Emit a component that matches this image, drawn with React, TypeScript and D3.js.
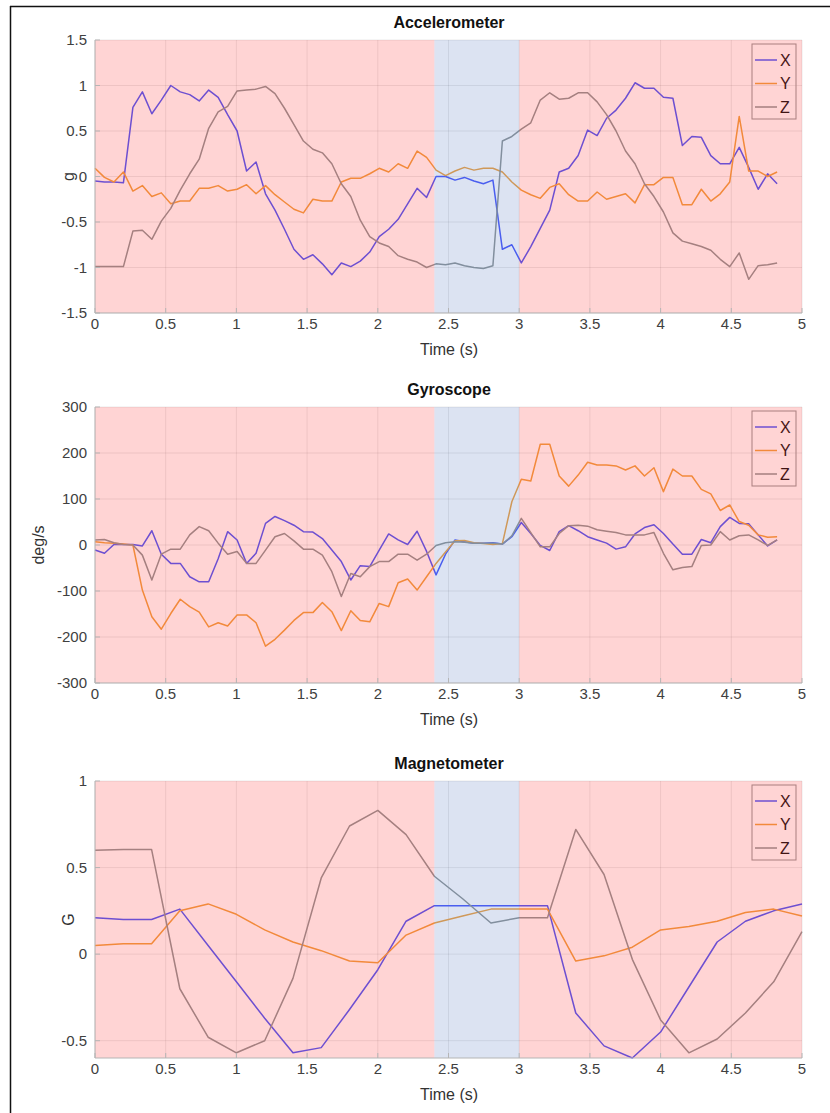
import React from 'react'
import * as d3 from 'd3'

// sample period of the IMU streams (s)
const imuStep = 0.067
const imuTime = d3.range(73).map(i => i * imuStep)
const magTime = d3.range(26).map(i => i * 0.2)

const accX = [-0.05, -0.06, -0.06, -0.07, 0.76, 0.93, 0.69, 0.84, 1.0, 0.93, 0.9, 0.83, 0.95, 0.87, 0.68, 0.5, 0.06, 0.16, -0.19, -0.37, -0.58, -0.8, -0.91, -0.86, -0.96, -1.08, -0.95, -0.99, -0.93, -0.83, -0.66, -0.58, -0.47, -0.3, -0.13, -0.23, 0.0, 0.0, -0.04, -0.01, -0.05, -0.08, -0.04, -0.8, -0.75, -0.95, -0.77, -0.57, -0.37, 0.05, 0.09, 0.23, 0.51, 0.45, 0.64, 0.73, 0.86, 1.03, 0.97, 0.97, 0.87, 0.86, 0.34, 0.44, 0.43, 0.23, 0.14, 0.14, 0.32, 0.1, -0.14, 0.03, -0.08]
const accY = [0.09, -0.01, -0.06, 0.05, -0.16, -0.1, -0.22, -0.18, -0.3, -0.27, -0.27, -0.13, -0.13, -0.1, -0.16, -0.14, -0.09, -0.19, -0.1, -0.2, -0.28, -0.36, -0.4, -0.25, -0.27, -0.27, -0.06, -0.02, -0.02, 0.03, 0.09, 0.05, 0.14, 0.09, 0.28, 0.21, 0.07, 0.01, 0.06, 0.1, 0.07, 0.09, 0.09, 0.05, -0.06, -0.15, -0.2, -0.24, -0.12, -0.08, -0.2, -0.27, -0.27, -0.17, -0.25, -0.22, -0.19, -0.29, -0.09, -0.09, -0.01, -0.01, -0.31, -0.31, -0.14, -0.27, -0.19, -0.06, 0.66, 0.06, 0.06, 0.0, 0.05]
const accZ = [-0.99, -0.99, -0.99, -0.99, -0.6, -0.59, -0.69, -0.49, -0.35, -0.15, 0.03, 0.19, 0.53, 0.71, 0.77, 0.94, 0.95, 0.96, 0.99, 0.91, 0.75, 0.57, 0.39, 0.3, 0.26, 0.14, -0.08, -0.22, -0.48, -0.66, -0.73, -0.77, -0.87, -0.91, -0.94, -1.0, -0.96, -0.97, -0.95, -0.98, -1.0, -1.01, -0.98, 0.39, 0.44, 0.52, 0.59, 0.84, 0.92, 0.85, 0.86, 0.92, 0.92, 0.82, 0.68, 0.5, 0.28, 0.14, -0.08, -0.22, -0.39, -0.62, -0.71, -0.74, -0.77, -0.81, -0.91, -0.99, -0.84, -1.13, -0.98, -0.97, -0.95]

const gyroX = [-11, -18, 1, 1, 1, -2, 31, -20, -40, -40, -69, -80, -80, -30, 29, 11, -40, -18, 47, 62, 53, 43, 29, 28, 14, -11, -36, -76, -45, -47, -11, 24, 11, 1, 30, -14, -65, -20, 11, 7, 4, 4, 5, 2, 18, 49, 25, -1, -12, 29, 42, 31, 18, 11, 4, -9, -4, 24, 38, 44, 25, 2, -20, -20, 12, 5, 40, 60, 47, 46, 22, -2, 11]
const gyroY = [7, 5, 4, 2, 0, -98, -156, -183, -149, -118, -134, -146, -178, -169, -176, -152, -152, -169, -220, -205, -185, -164, -147, -147, -125, -145, -186, -143, -164, -167, -127, -134, -82, -74, -98, -69, -40, -15, 9, 10, 5, 3, 1, 3, 94, 143, 139, 219, 219, 150, 128, 152, 180, 174, 174, 172, 163, 172, 150, 168, 116, 165, 150, 150, 121, 111, 75, 87, 51, 43, 22, 17, 18]
const gyroZ = [11, 12, 5, 1, 0, -22, -76, -20, -9, -9, 22, 40, 31, 4, -20, -14, -40, -40, -11, 18, 25, 9, -9, -9, -22, -58, -112, -62, -69, -47, -36, -36, -20, -20, -33, -20, -1, 5, 7, 6, 4, 4, 4, 2, 20, 58, 27, -4, -4, 25, 42, 43, 41, 33, 30, 27, 22, 22, 22, 27, -18, -54, -49, -47, -1, 0, 29, 11, 20, 22, 11, -1, 11]

const magX = [0.21, 0.2, 0.2, 0.26, 0.05, -0.16, -0.37, -0.57, -0.54, -0.32, -0.09, 0.19, 0.28, 0.28, 0.28, 0.28, 0.28, -0.34, -0.53, -0.6, -0.45, -0.19, 0.07, 0.19, 0.25, 0.29]
const magY = [0.05, 0.06, 0.06, 0.25, 0.29, 0.23, 0.14, 0.07, 0.02, -0.04, -0.05, 0.11, 0.18, 0.22, 0.26, 0.26, 0.26, -0.04, -0.01, 0.04, 0.14, 0.16, 0.19, 0.24, 0.26, 0.22]
const magZ = [0.6, 0.605, 0.605, -0.2, -0.48, -0.57, -0.5, -0.14, 0.44, 0.74, 0.83, 0.69, 0.45, 0.32, 0.18, 0.21, 0.21, 0.72, 0.46, -0.03, -0.38, -0.57, -0.49, -0.34, -0.16, 0.13]

const seriesNames = ['X', 'Y', 'Z']
const seriesColors = ['#5060fc', '#f0a648', '#939a9a']
const xTicks = d3.range(0, 5.01, 0.5)
// shaded phases: [start, end, colour]
const phases: [number, number, string][] = [[0, 2.4, '#ff0000'], [2.4, 3.0, '#2e59b3'], [3.0, 5, '#ff0000']]

const font = 'Liberation Sans, Arial, Helvetica, sans-serif'

type PanelProps = {
  title: string
  ylabel: string
  ylabelX: number
  time: number[]
  series: number[][]
  yDomain: [number, number]
  yTicks: number[]
  top: number
  bottom: number
}

const Panel = ({ title, ylabel, ylabelX, time, series, yDomain, yTicks, top, bottom }: PanelProps) => {
  const x = d3.scaleLinear().domain([0, 5]).range([95, 802])
  const y = d3.scaleLinear().domain(yDomain).range([bottom, top])
  const line = d3.line<number>().x((_, i) => x(time[i])).y(d => y(d))
  const legX = 752, legY = top + 4
  return (
    <g>
      {/* grid */}
      {xTicks.map(t => (
        <line key={'gx' + t} x1={x(t)} x2={x(t)} y1={top} y2={bottom} stroke="#000" strokeOpacity={0.08} />
      ))}
      {yTicks.map(t => (
        <line key={'gy' + t} x1={95} x2={802} y1={y(t)} y2={y(t)} stroke="#000" strokeOpacity={0.08} />
      ))}
      {series.map((s, k) => (
        <path key={k} d={line(s) || ''} fill="none" stroke={seriesColors[k]} strokeWidth={1.5} strokeLinejoin="round" />
      ))}
      {/* legend */}
      <rect x={legX} y={legY} width={44} height={75} fill="none" stroke="#999" strokeWidth={1} />
      {seriesNames.map((n, k) => (
        <g key={n}>
          <line x1={legX + 3} x2={legX + 25} y1={legY + 16 + k * 23.5} y2={legY + 16 + k * 23.5} stroke={seriesColors[k]} strokeWidth={1.5} />
          <text x={legX + 28} y={legY + 16 + k * 23.5} dy="0.35em" fontSize={16} fontFamily={font} fill="#1a1a1a">{n}</text>
        </g>
      ))}
      {/* translucent phase shading on top */}
      {phases.map(([a, b, c], k) => (
        <rect key={'p' + k} x={x(a)} y={top} width={x(b) - x(a)} height={bottom - top} fill={c} fillOpacity={0.17} />
      ))}
      {/* axes */}
      <line x1={95} x2={802} y1={bottom} y2={bottom} stroke="#b5b5b5" />
      <line x1={95} x2={95} y1={top} y2={bottom} stroke="#b5b5b5" />
      {xTicks.map(t => (
        <g key={'tx' + t}>
          <line x1={x(t)} x2={x(t)} y1={bottom} y2={bottom - 5} stroke="#b5b5b5" />
          <text x={x(t)} y={bottom + 16} textAnchor="middle" fontSize={15} fontFamily={font} fill="#404040">{t}</text>
        </g>
      ))}
      {yTicks.map(t => (
        <g key={'ty' + t}>
          <line x1={95} x2={100} y1={y(t)} y2={y(t)} stroke="#b5b5b5" />
          <text x={87} y={y(t)} dy="0.35em" textAnchor="end" fontSize={15} fontFamily={font} fill="#404040">{t}</text>
        </g>
      ))}
      <text x={449} y={bottom + 42} textAnchor="middle" fontSize={16} fontFamily={font} fill="#333">Time (s)</text>
      <text x={449} y={top - 12} textAnchor="middle" fontSize={16} fontWeight="bold" fontFamily={font} fill="#111">{title}</text>
      <text transform={`translate(${ylabelX},${(top + bottom) / 2}) rotate(-90)`} textAnchor="middle" fontSize={16} fontFamily={font} fill="#333">{ylabel}</text>
    </g>
  )
}

export default function App() {
  return (
    <svg width={830} height={1113} style={{ position: 'absolute', left: 0, top: 0, background: '#fff' }}>
      <line x1={10.5} x2={10.5} y1={6} y2={1113} stroke="#111" strokeWidth={1.5} />
      <line x1={10} x2={830} y1={6.5} y2={6.5} stroke="#111" strokeWidth={1.5} />
      <Panel title="Accelerometer" ylabel="g" ylabelX={74} time={imuTime} series={[accX, accY, accZ]}
        yDomain={[-1.5, 1.5]} yTicks={[-1.5, -1, -0.5, 0, 0.5, 1, 1.5]} top={40} bottom={313} />
      <Panel title="Gyroscope" ylabel="deg/s" ylabelX={44} time={imuTime} series={[gyroX, gyroY, gyroZ]}
        yDomain={[-300, 300]} yTicks={[-300, -200, -100, 0, 100, 200, 300]} top={407} bottom={683} />
      <Panel title="Magnetometer" ylabel="G" ylabelX={74} time={magTime} series={[magX, magY, magZ]}
        yDomain={[-0.6, 1]} yTicks={[-0.5, 0, 0.5, 1]} top={781} bottom={1058} />
    </svg>
  )
}
